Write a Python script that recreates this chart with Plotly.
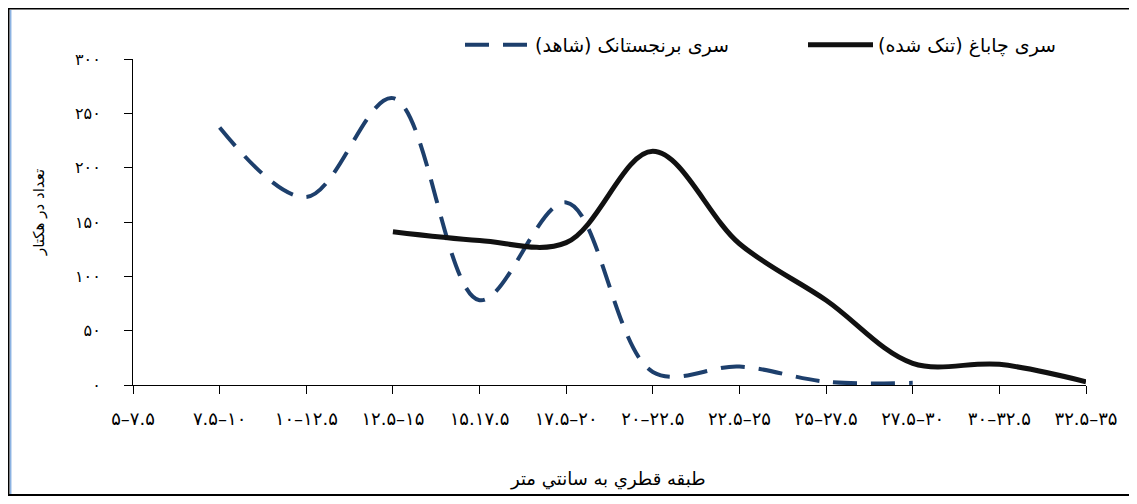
import plotly.graph_objects as go

categories = ["۵–۷.۵", "۷.۵–۱۰", "۱۰–۱۲.۵", "۱۲.۵–۱۵", "۱۵.۱۷.۵", "۱۷.۵–۲۰",
              "۲۰–۲۲.۵", "۲۲.۵–۲۵", "۲۵–۲۷.۵", "۲۷.۵–۳۰", "۳۰–۳۲.۵", "۳۲.۵–۳۵"]
control_name = "سری برنجستانک (شاهد)"
control_values = [None, 237, 173, 264, 78, 168, 12, 17, 3, 2, None, None]
thinned_name = "سری چاباغ (تنک شده)"
thinned_values = [None, None, None, 141, 133, 131, 215, 130, 78, 20, 19, 3]
y_tickvals = [0, 50, 100, 150, 200, 250, 300]
y_ticktext = ["۰", "۵۰", "۱۰۰", "۱۵۰", "۲۰۰", "۲۵۰", "۳۰۰"]
x_title = "طبقه قطري به سانتي متر"
y_title = "تعداد در هکتار"

FONT = "DejaVu Sans, Noto Sans, sans-serif"
xs = list(range(len(categories)))

fig = go.Figure()
fig.add_trace(go.Scatter(
    x=xs, y=control_values, name=control_name, mode="lines", legend="legend",
    line=dict(color="#1d3f6c", width=4, dash="24px,14px", shape="spline", smoothing=1.0),
))
fig.add_trace(go.Scatter(
    x=xs, y=thinned_values, name=thinned_name, mode="lines", legend="legend2",
    line=dict(color="#111111", width=5, shape="spline", smoothing=1.0),
))

# page has an 8px body margin: figure pixel = page pixel - 8
OFF = 8
W, H = 1137, 504
L, R, T, B = 125, 59, 51, 127
pw, ph = W - L - R, H - T - B

def px(x_page):
    return (x_page - OFF - L) / pw

def py(y_page):
    return (H - B - (y_page - OFF)) / ph

leg_common = dict(orientation="h", xanchor="left", yanchor="middle", y=py(45),
                  itemwidth=65, font=dict(size=19, family=FONT), bgcolor="rgba(0,0,0,0)")

fig.update_layout(
    width=W, height=H,
    margin=dict(l=L, r=R, t=T, b=B, autoexpand=False),
    paper_bgcolor="white", plot_bgcolor="white",
    font=dict(family=FONT, size=16, color="#000000"),
    showlegend=True,
    legend=dict(x=px(460), **leg_common),
    legend2=dict(x=px(803), **leg_common),
    xaxis=dict(range=[0, 11], tickvals=xs, ticktext=categories, showgrid=False, zeroline=False,
               showline=True, linecolor="#000000", linewidth=1, ticks="outside", ticklen=8,
               tickcolor="#000000", tickfont=dict(size=18, family=FONT), ticklabelstandoff=9,
               automargin=False),
    yaxis=dict(range=[0, 300], tickvals=y_tickvals, ticktext=y_ticktext, showgrid=False,
               zeroline=False, showline=True, linecolor="#000000", linewidth=1,
               ticks="outside", ticklen=8, tickcolor="#000000",
               tickfont=dict(size=16, family=FONT), ticklabelstandoff=20, automargin=False),
)

fig.add_annotation(text=y_title, xref="paper", yref="paper", x=px(39), y=py(213),
                   showarrow=False, textangle=-90, font=dict(size=15, family=FONT),
                   xanchor="center", yanchor="middle")
fig.add_annotation(text=x_title, xref="paper", yref="paper", x=px(607), y=py(479),
                   showarrow=False, font=dict(size=18, family=FONT),
                   xanchor="center", yanchor="middle")

# outer frame (page coordinates)
fig.add_shape(type="line", xref="paper", yref="paper", x0=px(8), x1=px(8), y0=py(7), y1=py(496),
              line=dict(color="#000000", width=3))
fig.add_shape(type="line", xref="paper", yref="paper", x0=px(10.7), x1=px(10.7), y0=py(10), y1=py(494),
              line=dict(color="#8db3e2", width=1.5))
fig.add_shape(type="line", xref="paper", yref="paper", x0=px(6), x1=px(1150), y0=py(8.5), y1=py(8.5),
              line=dict(color="#000000", width=2))
fig.add_shape(type="line", xref="paper", yref="paper", x0=px(6), x1=px(1150), y0=py(495), y1=py(495),
              line=dict(color="#000000", width=2))

fig.write_html("out.html")
